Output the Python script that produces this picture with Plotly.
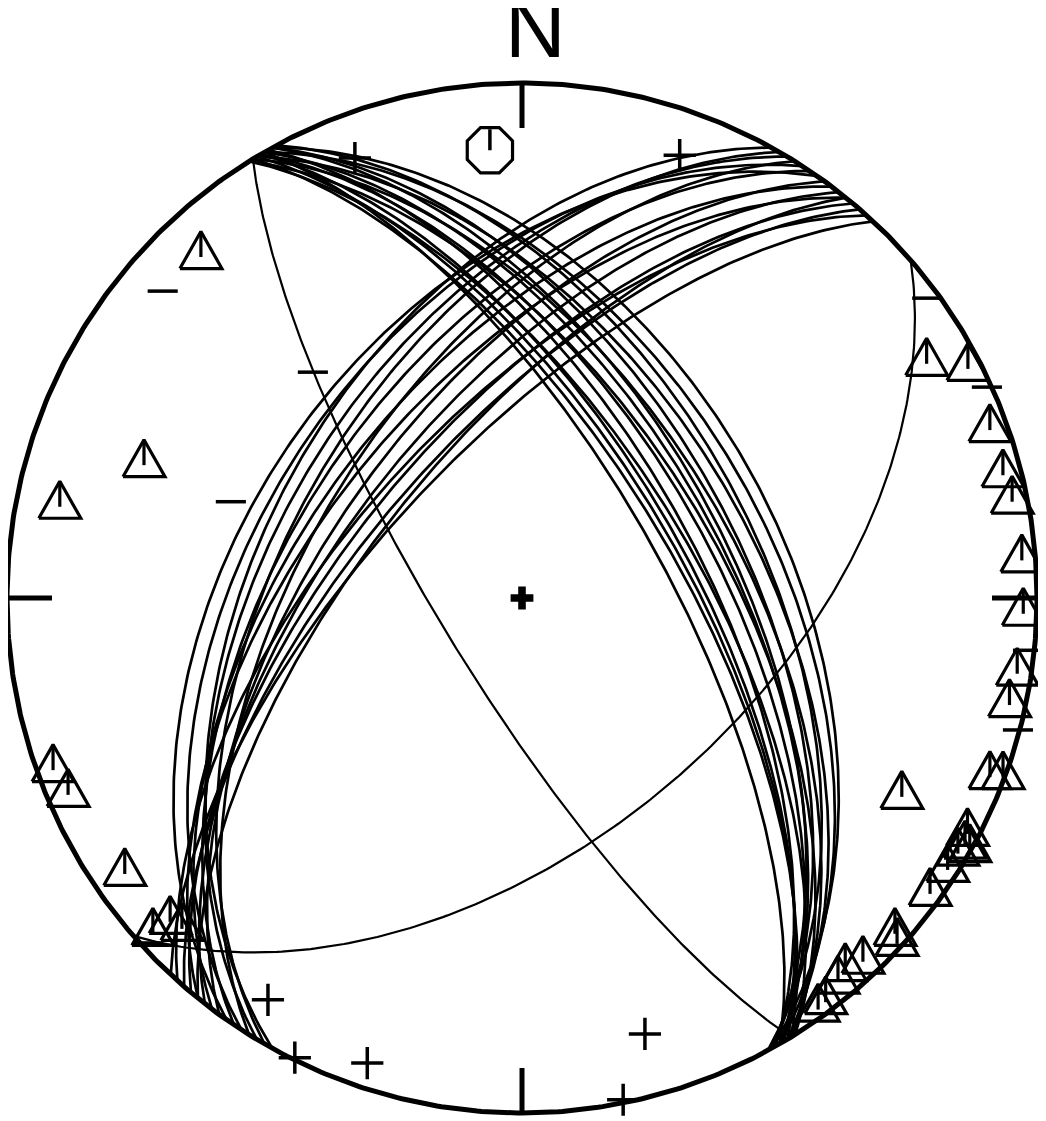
import numpy as np
import plotly.graph_objects as go

# ---------------- data ----------------
# family 1 nodal planes (strike, dip; right-hand rule) -> dipping NE
fam1_strike = [331, 330, 331.5, 329, 331, 328.5, 330, 328, 329.5, 330.5, 328, 329, 328.5, 330, 331, 329.5]
fam1_dip    = [48, 50, 52, 53, 55, 56, 58, 59, 60, 62, 63, 65, 66, 68, 57, 64]
# family 2 nodal planes -> dipping NW
fam2_strike = [215, 213, 209, 211, 210, 214, 217, 212, 219, 216, 218, 220, 222, 221, 223, 219]
fam2_dip    = [45, 47, 48, 50, 52, 53, 55, 56, 57, 59, 61, 63, 62, 65, 67, 66]
# preferred solution (thin lines)
best_strike = [148.5, 49]
best_dip    = [77, 52]

# first motions: azimuth (deg), take-off angle (deg from downward vertical)
tri_az  = [317.3, 290.3, 282.0, 250.6, 247.3, 235.9, 228.3, 228.0, 226.4,
           59.2, 62.1, 69.5, 74.9, 78.1, 84.9, 91.0, 97.9, 101.6, 110.2, 109.7,
           116.8, 117.2, 118.6, 118.7, 119.7, 121.9, 125.3, 131.4, 132.1,
           136.3, 138.4, 140.0, 142.6, 143.8]
tri_toa = [81.1, 67.2, 80.9, 86.1, 85.0, 82.4, 85.5, 81.1, 80.3,
           80.6, 87.7, 86.6, 86.3, 86.9, 87.1, 87.0, 86.7, 86.2, 86.4, 89.1,
           71.5, 86.9, 87.7, 89.0, 87.1, 87.0, 86.7, 86.1, 87.9,
           85.3, 83.9, 84.9, 86.7, 87.0]
plus_az  = [339.2, 19.6, 212.3, 206.3, 198.4, 164.25, 168.6]
plus_toa = [80.5, 80.4, 81.5, 89.5, 84.6, 76.9, 89.3]
minus_az  = [310.5, 288.3, 317.2, 53.5, 65.6, 95.9, 104.9, 227.3]
minus_toa = [80.9, 49.8, 50.0, 87.6, 89.0, 88.6, 89.6, 88.6]
axis_az  = [355.9]
axis_toa = [76.1]

# ---------------- helpers ----------------
R_PX = 515.0
PX = 1.0 / R_PX


def proj_line(az, toa):
    az = np.radians(np.asarray(az, float))
    r = np.sqrt(2.0) * np.sin(np.radians(np.asarray(toa, float)) / 2.0)
    return r * np.sin(az), r * np.cos(az)


def great_circle(strike, dip):
    s = np.radians(strike)
    d = np.radians(dip)
    t = np.radians(np.linspace(0, 180, 241))
    S = np.array([np.cos(s), np.sin(s), 0.0])
    D = np.array([np.cos(d) * np.cos(s + np.pi / 2), np.cos(d) * np.sin(s + np.pi / 2), np.sin(d)])
    v = np.outer(np.cos(t), S) + np.outer(np.sin(t), D)
    k = 1.0 / np.sqrt(1.0 + v[:, 2])
    return v[:, 1] * k, v[:, 0] * k


fig = go.Figure()


def add_planes(strikes, dips, width):
    xs, ys = [], []
    for st, dp in zip(strikes, dips):
        x, y = great_circle(st, dp)
        xs += list(x) + [None]
        ys += list(y) + [None]
    fig.add_trace(go.Scatter(x=xs, y=ys, mode="lines",
                             line=dict(color="black", width=width),
                             hoverinfo="skip", showlegend=False))


add_planes(fam1_strike, fam1_dip, 2.7)
add_planes(fam2_strike, fam2_dip, 2.7)
add_planes(best_strike, best_dip, 2.2)

# primitive circle
th = np.linspace(0, 2 * np.pi, 721)
fig.add_trace(go.Scatter(x=np.cos(th), y=np.sin(th), mode="lines",
                         line=dict(color="black", width=5), hoverinfo="skip", showlegend=False))

# N E S W ticks
tl = 45 * PX
tx, ty = [], []
for a in [0, 90, 180, 270]:
    ar = np.radians(a)
    tx += [np.sin(ar), (1 - tl) * np.sin(ar), None]
    ty += [np.cos(ar), (1 - tl) * np.cos(ar), None]
fig.add_trace(go.Scatter(x=tx, y=ty, mode="lines", line=dict(color="black", width=5),
                         hoverinfo="skip", showlegend=False))

# triangles with tick
hx, hy = 21 * PX, 18.5 * PX
txs, tys = [], []
cx, cy = proj_line(tri_az, tri_toa)
for x0, y0 in zip(cx, cy):
    txs += [x0 - hx, x0 + hx, x0, x0 - hx, None, x0, x0, None]
    tys += [y0 - hy, y0 - hy, y0 + hy, y0 - hy, None, y0 + hy, y0 - 7 * PX, None]
fig.add_trace(go.Scatter(x=txs, y=tys, mode="lines", line=dict(color="black", width=3.2),
                         hoverinfo="skip", showlegend=False))

# plus signs
px_, py_ = proj_line(plus_az, plus_toa)
fig.add_trace(go.Scatter(x=px_, y=py_, mode="markers",
                         marker=dict(symbol="cross-thin-open", size=23, color="black",
                                     line=dict(color="black", width=3.5)),
                         hoverinfo="skip", showlegend=False))
# minus signs
mx, my = proj_line(minus_az, minus_toa)
fig.add_trace(go.Scatter(x=mx, y=my, mode="markers",
                         marker=dict(symbol="line-ew-open", size=21.5, color="black",
                                     line=dict(color="black", width=3.5)),
                         hoverinfo="skip", showlegend=False))
# axis octagon with tick
ox, oy = proj_line(axis_az, axis_toa)
fig.add_trace(go.Scatter(x=ox, y=oy, mode="markers",
                         marker=dict(symbol="octagon-open", size=49, color="black",
                                     line=dict(color="black", width=3.2)),
                         hoverinfo="skip", showlegend=False))
okx, oky = [], []
for x0, y0 in zip(ox, oy):
    okx += [x0, x0, None]
    oky += [y0 + 21 * PX, y0, None]
fig.add_trace(go.Scatter(x=okx, y=oky, mode="lines", line=dict(color="black", width=3.5),
                         hoverinfo="skip", showlegend=False))

# centre cross
fig.add_trace(go.Scatter(x=[0], y=[0], mode="markers",
                         marker=dict(symbol="cross", size=19, color="black", line=dict(width=0)),
                         hoverinfo="skip", showlegend=False))

fig.add_annotation(x=13 * PX, y=570 * PX, text="N", showarrow=False,
                   xanchor="center", yanchor="middle",
                   font=dict(family="Liberation Sans, Arial", size=84, color="black"))

W, H = 1046, 1121
# page body has an 8 px margin; place the net centre at page pixel (522, 598)
CX, CY = 522 - 8, 598 - 8
fig.update_layout(
    width=W, height=H, margin=dict(l=0, r=0, t=0, b=0),
    paper_bgcolor="white", plot_bgcolor="white",
    xaxis=dict(range=[-CX / R_PX, (W - CX) / R_PX], visible=False, fixedrange=True),
    yaxis=dict(range=[-(H - CY) / R_PX, CY / R_PX], visible=False, fixedrange=True),
    showlegend=False,
)
fig.write_html("out.html")
